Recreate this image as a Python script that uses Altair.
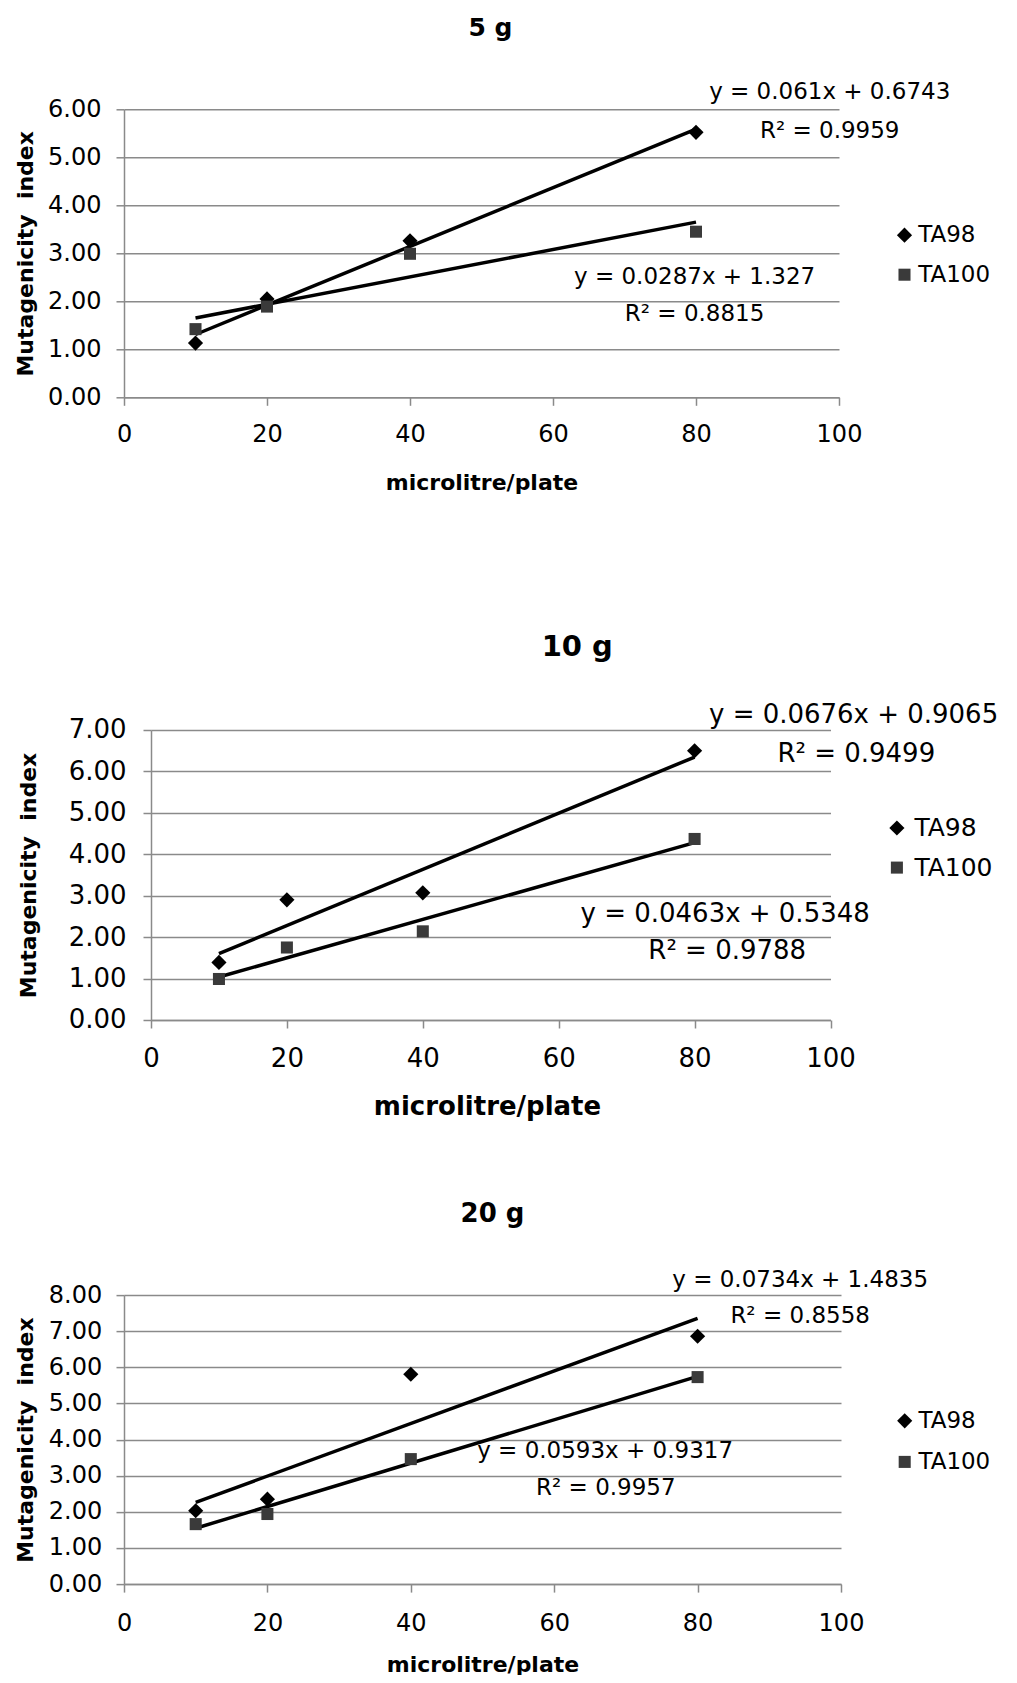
import altair as alt
import pandas as pd

# ---------------- data ----------------
doses = [10, 20, 40, 80]
series_names = ["TA98", "TA100"]

ta98_5g = [1.13, 2.05, 3.26, 5.52]
ta100_5g = [1.42, 1.89, 2.99, 3.45]
ta98_10g = [1.39, 2.90, 3.07, 6.50]
ta100_10g = [0.99, 1.75, 2.14, 4.37]
ta98_20g = [2.03, 2.35, 5.81, 6.86]
ta100_20g = [1.66, 1.94, 3.46, 5.73]

panel_titles = ["5 g", "10 g", "20 g"]
x_tick_values = [0, 20, 40, 60, 80, 100]
y_top_values = [6, 7, 8]

eq_labels_5g = ["y = 0.061x + 0.6743", "R² = 0.9959", "y = 0.0287x + 1.327", "R² = 0.8815"]
eq_x_5g = [98.7, 98.7, 79.8, 79.8]
eq_y_5g = [6.35, 5.55, 2.50, 1.74]
eq_labels_10g = ["y = 0.0676x + 0.9065", "R² = 0.9499", "y = 0.0463x + 0.5348", "R² = 0.9788"]
eq_x_10g = [103.4, 103.8, 84.5, 84.8]
eq_y_10g = [7.36, 6.43, 2.56, 1.67]
eq_labels_20g = ["y = 0.0734x + 1.4835", "R² = 0.8558", "y = 0.0593x + 0.9317", "R² = 0.9957"]
eq_x_20g = [94.3, 94.3, 67.1, 67.2]
eq_y_20g = [8.43, 7.42, 3.69, 2.67]

# ---------------- style ----------------
FONT = "DejaVu Sans"
GRID = "#8a8a8a"
INK = "#000000"

styles = [
    dict(w=715, h=288, xrange=None, yoff=0, lab=24, xlp=36.2, ylp=15, xt=22, xty=92.2, xtx=None,
         ytx=-91.5, lx=769, ly=114.4, leg=23, lrp=15.5, lo=2.2, eq=23, tfs=25, tdx=9, toff=20.4),
    dict(w=706.5, h=290, xrange=[27, 706.5], yoff=-27, lab=26, xlp=38.3, ylp=17, xt=26, xty=94.1,
         xtx=363, ytx=-115.5, lx=760.4, ly=85.5, leg=25, lrp=13.6, lo=5, eq=26, tfs=29, tdx=100,
         toff=17.5),
    dict(w=717, h=289, xrange=None, yoff=0, lab=24, xlp=38.3, ylp=14.3, xt=22, xty=87, xtx=None,
         ytx=-91.5, lx=769.2, ly=114.2, leg=23, lrp=17.1, lo=2.2, eq=23, tfs=26, tdx=10, toff=20.7),
]


def panel(title, ta98, ta100, eq_labels, eq_x, eq_y, ymax, st):
    pts = pd.DataFrame({
        "dose": doses * 2,
        "value": ta98 + ta100,
        "series": ["TA98"] * len(doses) + ["TA100"] * len(doses),
    })
    eqs = pd.DataFrame({"dose": eq_x, "value": eq_y, "label": eq_labels})

    xscale_kw = dict(domain=[0, 100], nice=False, zero=False)
    if st["xrange"] is not None:
        xscale_kw["range"] = st["xrange"]
    xaxis_kw = dict(
        values=x_tick_values, title="microlitre/plate", grid=False,
        tickSize=8, tickColor=GRID, tickWidth=1.5, domainColor=GRID, domainWidth=1.5,
        labelFont=FONT, labelFontSize=st["lab"], labelColor=INK, labelFlush=False,
        labelBaseline="alphabetic", labelPadding=st["xlp"], labelOverlap=False,
        titleFont=FONT, titleFontSize=st["xt"], titleFontWeight="bold", titleColor=INK,
        titleBaseline="alphabetic", titleY=st["xty"],
    )
    if st["xtx"] is not None:
        xaxis_kw["titleX"] = st["xtx"]

    x_enc = alt.X("dose:Q", scale=alt.Scale(**xscale_kw), axis=alt.Axis(**xaxis_kw))
    y_enc = alt.Y(
        "value:Q",
        scale=alt.Scale(domain=[0, ymax], nice=False),
        axis=alt.Axis(
            values=list(range(ymax + 1)), format=".2f", title="Mutagenicity\u00a0 index",
            offset=st["yoff"],
            grid=True, gridColor=GRID, gridWidth=1.5, tickSize=8, tickColor=GRID, tickWidth=1.5,
            domainColor=GRID, domainWidth=1.5,
            labelFont=FONT, labelFontSize=st["lab"], labelColor=INK, labelPadding=st["ylp"],
            labelOverlap=False,
            titleFont=FONT, titleFontSize=22, titleFontWeight="bold", titleColor=INK,
            titleAngle=270, titleBaseline="alphabetic", titleX=st["ytx"],
        ),
    )
    legend = alt.Legend(
        orient="none", legendX=st["lx"], legendY=st["ly"], title=None,
        labelFont=FONT, labelFontSize=st["leg"], labelColor=INK,
        symbolSize=150, symbolStrokeWidth=0, padding=0, rowPadding=st["lrp"],
        labelOffset=st["lo"], symbolOffset=0,
    )

    lines = alt.Chart(pts).transform_regression(
        "dose", "value", groupby=["series"]
    ).mark_line(color=INK, strokeWidth=3.5).encode(x=x_enc, y=y_enc, detail="series:N")

    points = alt.Chart(pts).mark_point(filled=True, opacity=1).encode(
        x=x_enc, y=y_enc,
        shape=alt.Shape("series:N", scale=alt.Scale(domain=series_names, range=["diamond", "square"]),
                        legend=legend),
        color=alt.Color("series:N", scale=alt.Scale(domain=series_names, range=["#000000", "#3a3a3a"]),
                        legend=legend),
        size=alt.Size("series:N", scale=alt.Scale(domain=series_names, range=[230, 145]), legend=None),
    )

    texts = alt.Chart(eqs).mark_text(
        font=FONT, fontSize=st["eq"], color=INK, align="center", baseline="middle"
    ).encode(x=x_enc, y=y_enc, text="label:N")

    return alt.layer(lines, points, texts).properties(
        width=st["w"], height=st["h"],
        title=alt.TitleParams(
            text=title, font=FONT, fontSize=st["tfs"], fontWeight="bold", color=INK,
            anchor="middle", dx=st["tdx"], offset=st["toff"], baseline="alphabetic",
        ),
    )


c1 = panel(panel_titles[0], ta98_5g, ta100_5g, eq_labels_5g, eq_x_5g, eq_y_5g, y_top_values[0], styles[0])
c2 = panel(panel_titles[1], ta98_10g, ta100_10g, eq_labels_10g, eq_x_10g, eq_y_10g, y_top_values[1], styles[1])
c3 = panel(panel_titles[2], ta98_20g, ta100_20g, eq_labels_20g, eq_x_20g, eq_y_20g, y_top_values[2], styles[2])

lower = alt.vconcat(c2, c3, spacing=80.1).resolve_scale(
    color="independent", shape="independent", size="independent"
).resolve_legend(color="independent", shape="independent", size="independent")

chart = alt.vconcat(c1, lower, spacing=137.7).resolve_scale(
    color="independent", shape="independent", size="independent"
).resolve_legend(
    color="independent", shape="independent", size="independent"
).properties(
    padding={"left": 6, "top": 7.3, "right": 0, "bottom": 0}, background="white"
).configure_view(stroke=None)

chart.save("out.html", embed_options={"renderer": "svg", "actions": False})
